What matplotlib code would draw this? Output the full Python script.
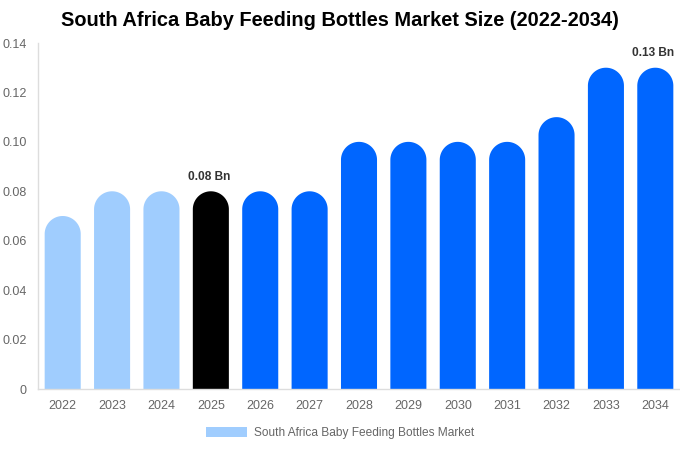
import matplotlib
matplotlib.use("Agg")
import numpy as np
import matplotlib.pyplot as plt
from matplotlib.patches import PathPatch, Patch
from matplotlib.path import Path

plt.rcParams['font.family'] = ['Liberation Sans', 'DejaVu Sans']

years = ["2022", "2023", "2024", "2025", "2026", "2027", "2028", "2029", "2030", "2031", "2032", "2033", "2034"]
values = [0.07, 0.08, 0.08, 0.08, 0.08, 0.08, 0.10, 0.10, 0.10, 0.10, 0.11, 0.13, 0.13]
colors = ["#a0cdfe"] * 3 + ["#000000"] + ["#0066ff"] * 9
annotations = {3: "0.08 Bn", 12: "0.13 Bn"}
yticks = [0, 0.02, 0.04, 0.06, 0.08, 0.10, 0.12, 0.14]
ytick_labels = ["0", "0.02", "0.04", "0.06", "0.08", "0.10", "0.12", "0.14"]
title = "South Africa Baby Feeding Bottles Market Size (2022-2034)"
legend_label = "South Africa Baby Feeding Bottles Market"

W, H = 680, 450
fig = plt.figure(figsize=(W / 100, H / 100), dpi=100)
ax_l, ax_r, ax_t, ax_b = 38, 680, 43, 389
ax = fig.add_axes([ax_l / W, 1 - ax_b / H, (ax_r - ax_l) / W, (ax_b - ax_t) / H])

ymax = 0.14
ax.set_xlim(-0.5, len(years) - 0.5)
ax.set_ylim(0, ymax)

bw = 0.73
px_per_x = (ax_r - ax_l) / len(years)
px_per_y = (ax_b - ax_t) / ymax
r_px = bw * px_per_x / 2
ry = r_px / px_per_y
t = np.linspace(np.pi, 0, 60)

for i, (v, c) in enumerate(zip(values, colors)):
    yc = v - ry
    xs = np.concatenate([[i - bw / 2], i + bw / 2 * np.cos(t), [i + bw / 2, i - bw / 2]])
    ys = np.concatenate([[0], yc + ry * np.sin(t), [0, 0]])
    verts = np.column_stack([xs, ys])
    codes = [Path.MOVETO] + [Path.LINETO] * (len(verts) - 2) + [Path.CLOSEPOLY]
    ax.add_patch(PathPatch(Path(verts, codes), facecolor=c, edgecolor='none', lw=0))
    if i in annotations:
        ax.text(i - 0.04, v + 0.0035, annotations[i], ha='center', va='bottom',
                fontsize=8.6, fontweight='bold', color='#333333')

ax.set_xticks(range(len(years)))
ax.set_xticklabels(years)
ax.set_yticks(yticks)
ax.set_yticklabels(ytick_labels)
ax.tick_params(axis='both', length=0, labelsize=9, colors='#666666')
ax.tick_params(axis='x', pad=8)
ax.tick_params(axis='y', pad=8)
for s in ['top', 'right']:
    ax.spines[s].set_visible(False)
for s in ['left', 'bottom']:
    ax.spines[s].set_color('#dddddd')
    ax.spines[s].set_linewidth(1)

fig.text(0.5, 1 - 21 / H, title, ha='center', va='center', fontsize=14.4, fontweight='bold', color='#000000')

fig.legend(handles=[Patch(facecolor='#a0cdfe', edgecolor='none')], labels=[legend_label],
           loc='center', bbox_to_anchor=(0.5, 1 - 433 / H), frameon=False, fontsize=8.6,
           labelcolor='#666666', handlelength=3.4, handleheight=1.0, handletextpad=0.6)

fig.savefig("out.png", dpi=100)
